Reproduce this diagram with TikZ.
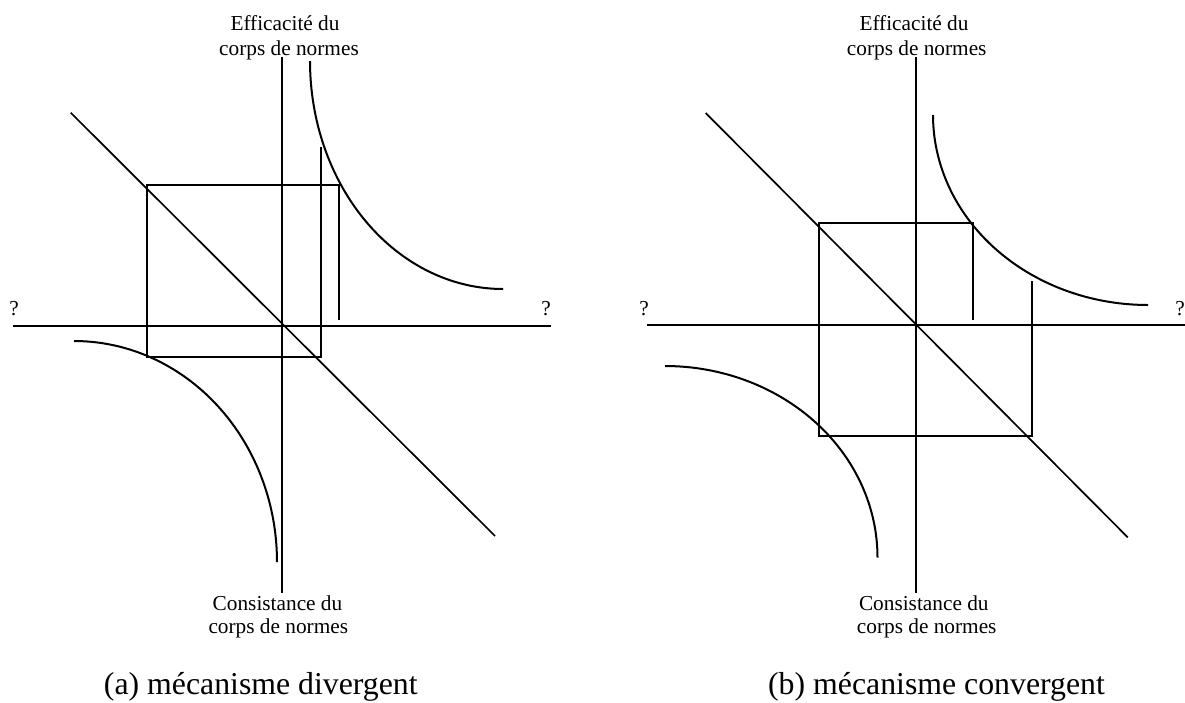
\documentclass[tikz,border=0pt]{standalone}
\usepackage{fontspec}
\setmainfont{Liberation Serif}
\begin{document}
\begin{tikzpicture}[x=1pt,y=-1pt,
  axisline/.style={line width=2pt},
  boxline/.style={line width=2pt, line join=miter},
  diagline/.style={line width=1.7pt},
  curveline/.style={line width=2pt},
  lbl/.style={font=\fontsize{21.3}{24}\selectfont, inner sep=0pt, anchor=base},
  qmark/.style={font=\fontsize{21.3}{24}\selectfont, inner sep=0pt, anchor=base},
  captext/.style={font=\fontsize{31.8}{36}\selectfont, inner sep=0pt, anchor=base}]
\useasboundingbox (0,0) rectangle (1185,702);

% ---------------- panel (a) ----------------
\coordinate (aVt) at (282,57);
\coordinate (aVb) at (282,593);
\coordinate (aHl) at (12.5,325.5);
\coordinate (aHr) at (551,325.5);
\coordinate (aDt) at (70.7,112.7);
\coordinate (aDb) at (495,536);
\draw[axisline] (aVt) -- (aVb);
\draw[axisline] (aHl) -- (aHr);
\draw[diagline] (aDt) -- (aDb);
\coordinate (aP1) at (339,320);
\coordinate (aP2) at (339,185);
\coordinate (aP3) at (147,185);
\coordinate (aP4) at (147,357);
\coordinate (aP5) at (321,357);
\coordinate (aP6) at (321,147);
\draw[boxline] (aP1) -- (aP2) -- (aP3) -- (aP4) -- (aP5) -- (aP6);
\draw[curveline] plot[domain=180:90, samples=80, smooth] ({503+193*cos(\x)},{61+228*sin(\x)});
\draw[curveline] plot[domain=270:360, samples=80, smooth] ({74+203*cos(\x)},{562+221*sin(\x)});
\node[lbl] (aE1) at (285,30.5) {Efficacité du};
\node[lbl] (aE2) at (289,55) {corps de normes};
\node[lbl] (aC1) at (277.5,610) {Consistance du};
\node[lbl] (aC2) at (278.3,633.5) {corps de normes};
\node[qmark] (aQl) at (14,315) {?};
\node[qmark] (aQr) at (546,315) {?};
\node[captext] (aCap) at (260.8,694.5) {(a) mécanisme divergent};

% ---------------- panel (b) ----------------
\coordinate (bVt) at (915.7,57);
\coordinate (bVb) at (915.7,593);
\coordinate (bHl) at (646.5,325);
\coordinate (bHr) at (1185,325);
\coordinate (bDt) at (705.7,113);
\coordinate (bDb) at (1127.7,537.3);
\draw[axisline] (bVt) -- (bVb);
\draw[axisline] (bHl) -- (bHr);
\draw[diagline] (bDt) -- (bDb);
\coordinate (bP1) at (973,320);
\coordinate (bP2) at (973,223);
\coordinate (bP3) at (819,223);
\coordinate (bP4) at (819,435.5);
\coordinate (bP5) at (1031.5,435.5);
\coordinate (bP6) at (1031.5,281);
\draw[boxline] (bP1) -- (bP2) -- (bP3) -- (bP4) -- (bP5) -- (bP6);
\draw[curveline] plot[domain=180:90, samples=80, smooth] ({1148+215*cos(\x)},{115+190*sin(\x)});
\draw[curveline] plot[domain=270:360, samples=80, smooth] ({665+212.5*cos(\x)},{557.5+191.5*sin(\x)});
\node[lbl] (bE1) at (914,30.5) {Efficacité du};
\node[lbl] (bE2) at (916.7,55) {corps de normes};
\node[lbl] (bC1) at (923.8,610) {Consistance du};
\node[lbl] (bC2) at (926.7,633.5) {corps de normes};
\node[qmark] (bQl) at (644,315) {?};
\node[qmark] (bQr) at (1180,315) {?};
\node[captext] (bCap) at (936.5,694.5) {(b) mécanisme convergent};
\end{tikzpicture}
\end{document}
